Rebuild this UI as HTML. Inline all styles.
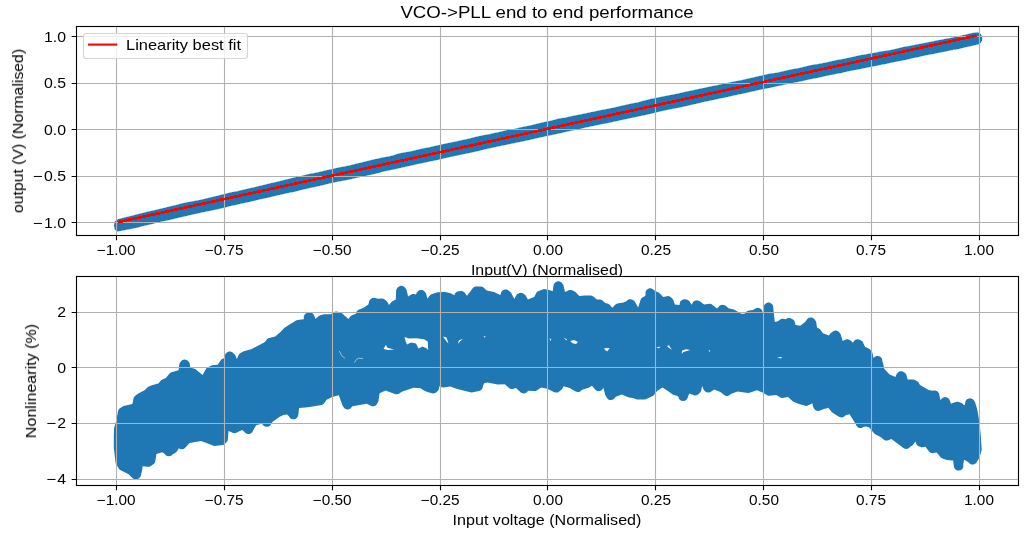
<!DOCTYPE html>
<html><head><meta charset="utf-8"><title>VCO-&gt;PLL end to end performance</title>
<style>
html,body{margin:0;padding:0;background:#fff;overflow:hidden;}
body{width:1036px;height:540px;position:relative;overflow:hidden;font-family:"Liberation Sans",sans-serif;color:#000;}
.t{position:absolute;white-space:nowrap;line-height:1;will-change:transform;font-family:"Liberation Sans",sans-serif;}
.m{display:inline-block;width:10.34px;text-align:center;position:relative;left:0.8px;}
.my{left:0.4px;transform:scaleX(1.06);transform-origin:100% 50%;}
#root{position:absolute;left:0;top:0;width:1036px;height:540px;overflow:hidden;background:#fff;}
</style></head><body>
<div id="root">
<svg width="1036" height="540" viewBox="0 0 1036 540" style="position:absolute;left:0;top:0">
<defs><clipPath id="c1"><rect x="76.5" y="26.5" width="942.0" height="209.0"/></clipPath><clipPath id="c2"><rect x="76.5" y="276.5" width="942.0" height="209.0"/></clipPath></defs>
<!--TOPAXES-->
<rect x="76.5" y="26.5" width="942.0" height="209.0" fill="#fff"/>
<g clip-path="url(#c1)">
<path d="M117.5 219.8 L121.5 218.6 L125.5 217.6 L129.5 216.7 L133.5 215.7 L137.5 214.6 L141.5 213.7 L145.5 212.7 L149.5 211.7 L153.5 210.8 L157.5 209.9 L161.5 208.9 L165.5 208.0 L169.5 206.9 L173.5 206.0 L177.5 205.1 L181.5 203.9 L185.5 203.0 L189.5 202.3 L193.5 201.5 L197.5 200.8 L201.5 200.0 L205.5 199.0 L209.5 198.0 L213.5 197.1 L217.5 196.2 L221.5 195.1 L225.5 194.2 L229.5 193.1 L233.5 192.3 L237.5 191.6 L241.5 190.5 L245.5 189.6 L249.5 188.7 L253.5 187.8 L257.5 186.8 L261.5 185.9 L265.5 184.9 L269.5 183.9 L273.5 183.0 L277.5 182.1 L281.5 181.1 L285.5 180.1 L289.5 179.1 L293.5 178.1 L297.5 177.2 L301.5 176.3 L305.5 175.3 L309.5 174.3 L313.5 173.6 L317.5 172.8 L321.5 171.8 L325.5 170.9 L329.5 170.0 L333.5 169.1 L337.5 168.2 L341.5 167.4 L345.5 166.7 L349.5 165.8 L353.5 164.8 L357.5 163.8 L361.5 162.9 L365.5 161.9 L369.5 160.9 L373.5 159.9 L377.5 159.1 L381.5 158.2 L385.5 157.4 L389.5 156.7 L393.5 155.7 L397.5 154.3 L401.5 153.4 L405.5 152.6 L409.5 152.0 L413.5 151.1 L417.5 150.1 L421.5 149.2 L425.5 148.4 L429.5 147.7 L433.5 146.7 L437.5 145.8 L441.5 144.9 L445.5 144.0 L449.5 143.2 L453.5 142.4 L457.5 141.5 L461.5 140.6 L465.5 139.8 L469.5 138.9 L473.5 137.8 L477.5 136.9 L481.5 136.0 L485.5 135.3 L489.5 134.5 L493.5 133.6 L497.5 132.8 L501.5 131.9 L505.5 130.9 L509.5 130.1 L513.5 129.5 L517.5 128.5 L521.5 127.5 L525.5 126.8 L529.5 126.0 L533.5 125.1 L537.5 124.0 L541.5 123.1 L545.5 122.2 L549.5 121.4 L553.5 120.5 L557.5 119.3 L561.5 118.5 L565.5 118.0 L569.5 117.0 L573.5 116.2 L577.5 115.4 L581.5 114.6 L585.5 113.8 L589.5 112.9 L593.5 112.1 L597.5 111.3 L601.5 110.4 L605.5 109.7 L609.5 108.9 L613.5 108.1 L617.5 107.1 L621.5 106.2 L625.5 105.3 L629.5 104.4 L633.5 103.5 L637.5 102.9 L641.5 101.7 L645.5 100.7 L649.5 99.6 L653.5 98.8 L657.5 98.0 L661.5 97.2 L665.5 96.4 L669.5 95.5 L673.5 94.9 L677.5 94.1 L681.5 93.1 L685.5 92.2 L689.5 91.4 L693.5 90.5 L697.5 89.6 L701.5 88.8 L705.5 88.0 L709.5 87.1 L713.5 86.3 L717.5 85.5 L721.5 84.6 L725.5 83.7 L729.5 82.9 L733.5 82.1 L737.5 81.3 L741.5 80.5 L745.5 79.6 L749.5 78.7 L753.5 77.8 L757.5 76.8 L761.5 76.0 L765.5 75.0 L769.5 74.1 L773.5 73.6 L777.5 73.0 L781.5 72.0 L785.5 71.2 L789.5 70.2 L793.5 69.4 L797.5 68.8 L801.5 67.9 L805.5 66.9 L809.5 65.9 L813.5 65.1 L817.5 64.5 L821.5 63.8 L825.5 63.0 L829.5 62.2 L833.5 61.2 L837.5 60.3 L841.5 59.7 L845.5 58.9 L849.5 58.0 L853.5 57.2 L857.5 56.2 L861.5 55.4 L865.5 54.8 L869.5 54.0 L873.5 53.4 L877.5 52.5 L881.5 51.8 L885.5 51.3 L889.5 50.6 L893.5 49.8 L897.5 48.8 L901.5 47.8 L905.5 47.0 L909.5 46.4 L913.5 45.5 L917.5 44.7 L921.5 44.0 L925.5 43.2 L929.5 42.4 L933.5 41.6 L937.5 40.7 L941.5 40.1 L945.5 39.2 L949.5 38.5 L953.5 37.7 L957.5 36.8 L961.5 35.9 L965.5 35.1 L969.5 34.0 L973.5 33.2 L977.5 32.8 A4.4 5.7 0 0 1 977.5 44.2 L977.5 44.2 L973.5 45.1 L969.5 46.0 L965.5 46.8 L961.5 47.9 L957.5 48.8 L953.5 49.4 L949.5 50.2 L945.5 51.1 L941.5 51.9 L937.5 52.6 L933.5 53.5 L929.5 54.3 L925.5 55.0 L921.5 55.9 L917.5 56.8 L913.5 57.6 L909.5 58.5 L905.5 59.5 L901.5 60.3 L897.5 61.0 L893.5 61.8 L889.5 62.7 L885.5 63.6 L881.5 64.3 L877.5 65.2 L873.5 65.9 L869.5 66.7 L865.5 67.5 L861.5 68.4 L857.5 69.2 L853.5 69.9 L849.5 70.6 L845.5 71.5 L841.5 72.5 L837.5 73.3 L833.5 74.1 L829.5 74.8 L825.5 75.7 L821.5 76.6 L817.5 77.5 L813.5 78.2 L809.5 79.0 L805.5 79.9 L801.5 80.8 L797.5 81.6 L793.5 82.4 L789.5 83.2 L785.5 84.0 L781.5 84.9 L777.5 85.7 L773.5 86.6 L769.5 87.5 L765.5 88.3 L761.5 89.1 L757.5 89.9 L753.5 90.8 L749.5 91.7 L745.5 92.6 L741.5 93.5 L737.5 94.3 L733.5 95.2 L729.5 96.1 L725.5 97.0 L721.5 97.8 L717.5 98.6 L713.5 99.5 L709.5 100.4 L705.5 101.2 L701.5 102.0 L697.5 103.1 L693.5 104.0 L689.5 104.8 L685.5 105.8 L681.5 106.7 L677.5 107.5 L673.5 108.3 L669.5 109.1 L665.5 109.9 L661.5 110.7 L657.5 111.7 L653.5 112.7 L649.5 113.6 L645.5 114.5 L641.5 115.4 L637.5 116.3 L633.5 117.1 L629.5 117.9 L625.5 118.8 L621.5 119.6 L617.5 120.5 L613.5 121.4 L609.5 122.3 L605.5 123.1 L601.5 123.8 L597.5 124.7 L593.5 125.5 L589.5 126.3 L585.5 127.2 L581.5 128.2 L577.5 129.1 L573.5 129.9 L569.5 130.7 L565.5 131.5 L561.5 132.5 L557.5 133.4 L553.5 134.3 L549.5 135.1 L545.5 135.9 L541.5 136.8 L537.5 137.7 L533.5 138.6 L529.5 139.5 L525.5 140.4 L521.5 141.3 L517.5 142.0 L513.5 142.9 L509.5 143.7 L505.5 144.5 L501.5 145.4 L497.5 146.2 L493.5 147.1 L489.5 147.9 L485.5 148.8 L481.5 149.8 L477.5 150.8 L473.5 151.7 L469.5 152.5 L465.5 153.4 L461.5 154.2 L457.5 155.1 L453.5 155.9 L449.5 156.7 L445.5 157.6 L441.5 158.5 L437.5 159.5 L433.5 160.4 L429.5 161.2 L425.5 162.1 L421.5 162.9 L417.5 163.7 L413.5 164.6 L409.5 165.5 L405.5 166.4 L401.5 167.3 L397.5 168.2 L393.5 169.1 L389.5 169.9 L385.5 170.7 L381.5 171.7 L377.5 172.8 L373.5 173.8 L369.5 174.6 L365.5 175.5 L361.5 176.4 L357.5 177.3 L353.5 178.1 L349.5 179.1 L345.5 179.9 L341.5 180.6 L337.5 181.3 L333.5 182.2 L329.5 183.1 L325.5 184.1 L321.5 185.1 L317.5 186.0 L313.5 186.8 L309.5 187.7 L305.5 188.6 L301.5 189.5 L297.5 190.6 L293.5 191.6 L289.5 192.3 L285.5 193.2 L281.5 194.1 L277.5 195.0 L273.5 195.9 L269.5 196.9 L265.5 197.8 L261.5 198.6 L257.5 199.5 L253.5 200.5 L249.5 201.5 L245.5 202.4 L241.5 203.2 L237.5 204.1 L233.5 205.0 L229.5 205.8 L225.5 207.0 L221.5 207.9 L217.5 208.8 L213.5 209.7 L209.5 210.5 L205.5 211.3 L201.5 212.2 L197.5 213.1 L193.5 213.9 L189.5 214.8 L185.5 215.8 L181.5 216.7 L177.5 217.6 L173.5 218.6 L169.5 219.6 L165.5 220.4 L161.5 221.2 L157.5 222.1 L153.5 223.3 L149.5 224.2 L145.5 225.1 L141.5 226.1 L137.5 227.2 L133.5 228.0 L129.5 228.8 L125.5 229.6 L121.5 230.4 L117.5 231.1 A3.5 5.7 0 0 1 117.5 219.8 Z" fill="#1f77b4" stroke="#1f77b4" stroke-width="0.8" stroke-linejoin="round" shape-rendering="crispEdges"/>
<path d="M116.50 26.5V235.5M224.50 26.5V235.5M332.50 26.5V235.5M440.50 26.5V235.5M547.50 26.5V235.5M655.50 26.5V235.5M763.50 26.5V235.5M871.50 26.5V235.5M979.50 26.5V235.5M76.5 36.50H1018.5M76.5 83.50H1018.5M76.5 129.50H1018.5M76.5 176.50H1018.5M76.5 222.50H1018.5" stroke="#b0b0b0" stroke-width="1.11" fill="none"/>
<path d="M118.80 221.98L975.30 35.92" stroke="#ff0000" stroke-width="2.7" fill="none" stroke-linecap="square" shape-rendering="crispEdges"/>
</g>
<path d="M116.50 235.5v4.86M224.50 235.5v4.86M332.50 235.5v4.86M440.50 235.5v4.86M547.50 235.5v4.86M655.50 235.5v4.86M763.50 235.5v4.86M871.50 235.5v4.86M979.50 235.5v4.86M76.5 36.50h-4.86M76.5 83.50h-4.86M76.5 129.50h-4.86M76.5 176.50h-4.86M76.5 222.50h-4.86" stroke="#000" stroke-width="1.11" fill="none"/>
<rect x="76.5" y="26.5" width="942.0" height="209.0" fill="none" stroke="#000" stroke-width="1.11"/>
<rect x="83.5" y="33.5" width="164" height="25" rx="2.8" ry="2.8" fill="#fff" fill-opacity="0.8" stroke="#ccc" stroke-opacity="0.8" stroke-width="1.11"/>
<path d="M89 44.6H116.2" stroke="#ff0000" stroke-width="2.08" stroke-linecap="square" fill="none"/>

<!--BOTAXES-->
<rect x="76.5" y="276.5" width="942.0" height="209.0" fill="#fff"/>
<g clip-path="url(#c2)">
<path d="M227.2 352.2 L225.8 353.5 L225.1 354.6 L224.8 356.4 L225.0 357.7 L222.1 358.9 L221.3 359.5 L217.7 364.7 L212.0 365.3 L207.3 367.6 L206.5 368.2 L205.9 369.1 L202.6 374.9 L195.2 369.1 L190.3 367.4 L189.7 363.4 L189.3 362.5 L187.5 360.6 L186.4 360.0 L184.6 359.6 L183.4 359.8 L182.2 360.2 L180.8 361.5 L179.6 363.3 L179.3 364.4 L178.6 370.3 L170.7 372.6 L169.6 373.6 L165.8 378.1 L161.3 380.1 L158.4 383.6 L152.6 384.9 L148.2 386.7 L144.5 390.2 L138.8 393.2 L135.2 395.7 L134.1 396.9 L133.7 397.8 L132.4 404.0 L123.6 406.0 L119.9 408.2 L119.1 409.0 L118.5 409.9 L118.1 410.9 L116.0 421.8 L114.1 427.9 L113.8 436.1 L113.8 447.8 L115.6 462.7 L116.0 463.7 L118.8 468.6 L119.8 469.7 L128.7 474.3 L132.1 477.8 L133.4 478.8 L135.2 479.4 L137.4 479.2 L139.5 477.9 L140.2 477.1 L140.7 476.2 L142.1 470.3 L142.6 466.2 L147.9 466.8 L149.5 466.7 L150.9 466.1 L154.4 463.4 L155.0 462.4 L155.3 461.3 L156.4 453.9 L162.3 452.3 L164.8 454.0 L165.5 454.9 L166.5 455.7 L168.3 456.3 L170.1 456.1 L171.3 455.7 L172.5 454.6 L176.2 452.3 L177.2 451.1 L178.8 448.3 L179.9 449.0 L181.7 449.3 L183.6 449.0 L184.7 448.3 L189.6 442.9 L201.1 441.1 L214.3 446.1 L222.8 445.1 L223.9 444.7 L224.8 443.9 L227.1 441.4 L227.6 440.5 L227.8 439.4 L228.5 431.1 L233.3 433.1 L234.9 433.2 L236.3 432.8 L242.0 430.0 L244.4 431.7 L245.1 432.7 L246.1 433.5 L247.9 434.1 L249.7 433.9 L251.4 433.1 L252.3 432.2 L252.9 431.1 L253.3 429.9 L256.2 425.2 L262.2 423.6 L262.6 424.4 L263.3 425.4 L264.9 426.4 L266.7 426.8 L268.6 426.4 L270.1 425.4 L270.9 424.4 L271.3 423.3 L273.0 421.4 L279.3 416.9 L283.3 415.1 L287.2 414.6 L288.9 416.2 L290.0 417.9 L291.0 418.7 L292.8 419.3 L294.0 419.3 L295.2 419.0 L296.8 417.9 L297.8 416.4 L298.5 414.0 L299.0 408.1 L308.0 407.2 L321.7 405.0 L322.7 404.6 L324.2 403.3 L326.6 399.7 L332.1 397.0 L338.9 395.2 L342.2 404.8 L343.4 407.0 L344.7 408.4 L345.8 409.0 L347.0 409.4 L348.2 409.4 L349.4 409.0 L350.5 408.4 L352.4 406.2 L366.8 403.8 L371.7 406.2 L373.6 406.3 L375.3 405.7 L376.7 404.5 L378.4 401.4 L379.6 393.2 L385.6 390.5 L394.9 394.0 L395.9 394.2 L397.0 394.2 L398.2 393.9 L399.4 393.5 L400.6 392.4 L402.4 391.4 L413.5 387.7 L420.5 388.3 L425.2 391.3 L431.8 393.3 L433.4 393.4 L435.8 392.7 L438.2 390.5 L438.9 389.1 L439.5 386.1 L440.8 386.9 L443.4 387.4 L450.3 386.4 L457.1 388.9 L470.4 392.3 L471.6 392.4 L478.9 391.1 L480.4 390.5 L481.4 389.7 L482.2 388.7 L482.7 387.6 L482.8 386.5 L484.1 383.2 L487.4 382.4 L497.6 384.6 L504.8 384.2 L509.6 388.5 L511.5 389.1 L512.7 389.1 L516.0 388.0 L520.8 392.4 L521.9 393.1 L523.7 393.4 L524.9 393.3 L526.1 392.8 L527.1 392.0 L528.2 390.7 L534.3 391.1 L535.9 390.9 L541.2 387.5 L547.4 388.8 L554.3 392.3 L556.2 392.6 L557.5 392.4 L558.6 392.0 L560.1 390.7 L561.3 389.9 L562.1 389.0 L563.6 386.2 L569.6 387.9 L575.6 391.5 L577.8 392.0 L579.0 391.9 L580.2 391.4 L581.5 390.2 L583.0 389.4 L588.5 387.8 L591.9 385.8 L594.2 388.2 L595.2 389.8 L596.8 390.8 L598.0 391.2 L599.9 391.0 L601.5 390.2 L602.8 388.8 L603.3 387.4 L605.2 394.8 L606.6 397.6 L607.4 398.6 L608.4 399.4 L609.5 399.9 L610.8 400.0 L612.6 399.7 L613.7 399.0 L614.6 398.2 L615.3 396.9 L621.7 394.4 L629.0 397.4 L632.9 397.9 L637.1 399.5 L644.0 399.6 L645.2 399.4 L653.3 395.7 L657.2 391.1 L662.4 387.6 L666.8 390.3 L673.1 394.7 L677.5 395.9 L678.5 397.1 L679.0 398.7 L679.8 399.7 L681.3 400.7 L683.2 401.1 L685.0 400.7 L686.1 400.1 L687.0 399.2 L687.8 397.5 L688.0 396.3 L689.5 393.6 L694.5 395.4 L696.4 395.3 L698.1 394.4 L700.1 392.5 L700.8 391.6 L701.2 390.5 L702.1 386.1 L703.7 389.8 L704.9 391.2 L706.4 392.3 L708.3 392.6 L710.1 392.3 L714.3 389.5 L720.4 392.1 L724.5 395.3 L726.2 395.9 L727.5 395.9 L728.7 395.6 L729.8 394.9 L730.4 394.3 L732.0 393.5 L737.5 391.6 L748.2 393.0 L749.5 392.8 L756.9 390.3 L763.1 392.7 L766.6 395.0 L768.2 395.7 L769.4 395.7 L776.2 394.9 L780.8 397.7 L782.4 398.1 L788.1 396.9 L793.0 401.4 L798.9 404.0 L805.4 405.7 L806.4 405.9 L807.9 405.6 L812.4 403.3 L813.1 406.7 L814.0 408.6 L815.2 410.0 L816.9 410.8 L818.2 411.0 L819.4 410.8 L823.1 409.2 L828.3 407.8 L831.9 412.2 L838.5 416.6 L840.3 417.3 L841.5 417.5 L842.8 417.3 L843.9 416.8 L845.4 415.5 L846.2 415.1 L849.6 414.3 L855.8 424.2 L856.3 425.6 L857.1 426.6 L858.1 427.4 L859.2 427.9 L860.5 428.0 L861.7 427.9 L863.3 427.1 L865.6 426.6 L869.0 427.2 L874.3 433.6 L875.2 434.3 L881.0 437.3 L884.2 440.0 L885.3 440.5 L887.2 440.6 L888.4 440.3 L891.4 438.9 L903.4 448.0 L905.0 448.8 L906.3 449.0 L907.5 448.8 L909.2 448.0 L910.4 446.6 L912.4 445.4 L915.4 441.6 L916.6 444.4 L917.7 445.7 L918.7 446.3 L921.7 447.3 L922.7 447.3 L925.5 446.7 L928.8 451.3 L930.2 452.5 L931.4 453.0 L932.6 453.2 L934.6 452.7 L936.7 452.5 L940.4 457.1 L941.8 458.2 L946.9 459.9 L953.1 460.5 L953.9 466.5 L954.2 467.7 L955.3 469.2 L956.3 470.0 L957.4 470.5 L958.7 470.6 L960.5 470.3 L962.0 469.2 L962.8 468.2 L963.4 466.5 L963.2 464.5 L964.1 459.8 L967.3 461.4 L968.4 462.2 L969.7 463.6 L971.3 464.5 L972.6 464.6 L973.8 464.5 L975.5 463.6 L976.4 462.7 L977.2 461.1 L978.1 460.1 L979.7 456.8 L981.7 450.1 L980.9 436.9 L979.4 422.1 L977.2 409.3 L975.0 402.0 L973.8 400.2 L972.9 399.3 L971.8 398.7 L970.0 398.3 L968.1 398.7 L967.0 399.3 L966.1 400.2 L965.5 401.3 L965.2 402.5 L965.2 403.4 L964.4 405.4 L962.1 403.2 L958.0 401.8 L956.9 401.7 L955.9 401.9 L952.7 403.0 L951.0 403.7 L949.4 399.4 L948.6 398.4 L947.0 397.4 L945.2 397.0 L943.4 397.4 L941.8 398.4 L941.0 399.5 L940.2 399.8 L939.1 393.6 L937.8 391.8 L936.8 391.0 L935.0 390.4 L933.7 390.4 L932.2 390.8 L928.7 390.1 L920.0 385.0 L918.3 382.1 L915.0 379.9 L913.2 379.5 L907.6 379.5 L906.3 374.4 L905.4 373.2 L903.2 371.7 L901.8 371.3 L900.5 371.3 L899.3 371.6 L898.2 372.3 L896.8 373.8 L895.4 377.1 L889.6 374.6 L884.2 368.7 L883.3 364.1 L882.3 361.0 L882.2 359.4 L881.4 357.8 L880.5 356.9 L879.4 356.3 L877.6 355.9 L876.3 356.0 L875.2 356.5 L873.5 358.0 L872.5 352.9 L870.8 350.2 L869.6 349.0 L865.0 346.8 L863.0 342.4 L862.4 341.6 L860.7 340.2 L859.0 339.4 L857.7 339.2 L856.5 339.4 L855.3 339.8 L854.4 340.6 L852.8 342.7 L851.8 341.5 L850.1 340.3 L849.0 339.7 L847.8 339.3 L846.7 339.3 L845.7 339.5 L842.7 341.0 L840.7 334.4 L840.2 333.4 L838.5 331.6 L837.4 331.0 L836.2 330.6 L834.4 330.8 L833.2 331.2 L830.8 333.1 L828.9 335.5 L822.9 333.3 L820.1 329.3 L817.0 327.5 L816.1 321.4 L814.3 318.9 L812.7 317.8 L810.9 317.5 L809.6 317.6 L808.5 318.1 L807.1 319.3 L805.1 322.0 L800.3 325.8 L795.6 325.0 L794.6 321.5 L794.1 320.6 L793.0 319.5 L791.1 318.4 L790.1 318.1 L789.1 318.0 L787.8 318.1 L785.6 319.3 L783.2 318.7 L781.6 318.8 L780.7 319.2 L777.9 321.2 L774.8 322.0 L773.1 306.2 L772.7 305.0 L771.9 304.0 L770.3 303.0 L769.1 302.6 L767.9 302.6 L766.7 303.0 L765.1 304.0 L764.3 305.0 L763.6 307.3 L762.8 313.0 L762.2 310.8 L761.2 309.2 L759.6 308.2 L757.8 307.8 L756.0 308.2 L752.9 310.1 L749.0 310.5 L747.5 310.9 L746.6 311.5 L744.6 313.8 L741.3 313.8 L733.9 309.6 L728.4 308.2 L725.8 305.8 L723.9 304.9 L722.1 304.7 L720.3 305.3 L719.3 306.1 L718.4 307.3 L717.0 308.6 L714.5 306.4 L711.2 304.1 L709.6 303.8 L704.2 304.5 L699.2 301.0 L697.5 300.4 L695.6 300.5 L693.9 301.3 L693.0 302.2 L691.7 304.7 L689.2 301.1 L688.3 300.2 L686.6 299.4 L683.8 299.3 L682.1 299.9 L680.6 301.1 L680.0 302.2 L679.7 304.3 L679.3 305.1 L674.8 304.5 L673.2 299.7 L672.5 298.7 L670.9 297.2 L669.2 296.3 L668.1 296.1 L663.2 297.0 L659.2 292.8 L658.1 292.2 L655.2 291.1 L652.6 288.9 L650.8 288.3 L649.5 288.3 L648.3 288.7 L646.8 289.7 L646.0 290.7 L645.4 292.5 L645.6 294.4 L645.2 296.0 L642.2 297.6 L641.0 298.8 L640.6 299.8 L638.2 307.5 L634.4 301.1 L632.1 299.6 L630.2 299.2 L628.4 299.6 L627.3 300.2 L626.4 301.2 L623.4 302.5 L617.3 303.6 L616.2 303.9 L614.9 305.0 L612.4 307.8 L609.1 304.2 L608.1 303.7 L605.2 303.1 L601.9 300.0 L600.3 299.4 L596.9 299.4 L593.3 296.5 L591.8 295.8 L590.7 295.6 L584.8 295.6 L579.3 296.0 L575.5 291.9 L572.7 290.4 L571.0 289.9 L569.4 290.1 L565.0 292.1 L563.3 284.8 L562.1 283.2 L561.2 282.3 L560.1 281.7 L558.9 281.3 L557.7 281.3 L556.5 281.7 L554.9 282.7 L554.1 283.7 L553.4 286.0 L552.7 291.2 L549.2 290.1 L545.0 289.2 L543.9 289.1 L542.7 289.4 L538.6 290.9 L537.2 291.7 L536.3 293.0 L534.2 297.0 L527.9 299.6 L525.7 295.4 L523.2 293.4 L522.0 292.9 L520.8 292.8 L519.5 292.9 L518.4 293.4 L517.0 294.3 L516.0 295.7 L514.3 299.1 L511.1 292.8 L509.1 290.9 L507.4 289.8 L506.2 289.5 L505.0 289.5 L503.8 289.8 L502.7 290.4 L501.4 291.8 L500.8 293.8 L500.2 294.9 L494.0 292.0 L486.7 290.5 L482.9 287.1 L482.0 286.7 L480.5 286.4 L475.7 286.4 L474.6 286.7 L473.7 287.3 L472.5 288.4 L470.3 291.6 L467.0 295.7 L465.8 294.6 L465.4 293.5 L464.6 292.5 L463.1 291.4 L461.8 291.1 L458.5 291.2 L456.8 291.8 L455.4 293.1 L454.7 294.1 L454.4 295.2 L450.6 293.3 L445.4 292.0 L444.2 291.9 L437.9 292.3 L436.8 292.5 L430.9 294.6 L429.8 295.6 L427.4 298.8 L426.2 293.9 L425.8 292.9 L424.1 291.0 L423.0 290.3 L421.8 290.0 L419.9 290.1 L418.2 291.0 L416.6 292.9 L416.1 294.4 L413.4 294.0 L412.4 294.1 L410.9 294.7 L408.1 296.6 L406.7 290.4 L406.1 289.0 L404.7 287.2 L403.7 286.4 L401.9 285.8 L400.7 285.8 L399.5 286.2 L397.9 287.2 L397.1 288.2 L396.3 289.8 L396.1 290.9 L395.8 299.6 L392.0 301.6 L389.0 304.9 L387.1 301.6 L384.3 299.3 L383.4 298.7 L381.7 298.4 L378.1 298.8 L374.0 297.8 L372.4 298.1 L370.5 299.3 L369.7 300.1 L369.1 301.2 L368.4 304.6 L363.1 308.1 L358.6 309.7 L357.5 310.6 L356.8 311.6 L356.3 312.8 L356.1 313.8 L351.3 315.6 L350.5 316.2 L348.4 319.0 L341.6 313.0 L340.4 312.5 L336.7 311.5 L335.6 311.5 L334.5 311.9 L330.8 314.2 L324.3 314.2 L320.4 315.3 L318.9 316.1 L315.4 318.9 L314.1 315.3 L313.0 313.7 L312.1 312.9 L310.9 312.5 L309.7 312.3 L308.4 312.5 L306.1 313.3 L304.7 314.5 L303.8 316.2 L303.7 317.5 L303.9 318.8 L303.7 319.2 L297.5 320.0 L296.1 320.4 L284.5 327.8 L280.5 331.9 L275.2 336.4 L269.2 337.9 L268.1 338.3 L267.2 339.0 L264.9 342.0 L258.5 345.6 L251.1 349.3 L243.7 351.3 L240.1 353.3 L239.3 354.0 L238.6 354.9 L236.9 359.0 L235.3 355.2 L232.9 352.7 L231.9 352.1 L230.2 351.6 L228.9 351.6 Z" fill="#1f77b4" fill-rule="evenodd"/>
<path d="M404.5 337 L409 338.6 L416 338.2 L424 339.2 L427.8 341.5 L428.2 350 L426.5 348.2 L422.5 346.5 L418.5 348.5 L416 343.5 L411 342.6 L407 344.5 L405.5 341 Z" fill="#fff"/>
<path d="M383.5 349 L385.8 345 L387.5 347.8 L391 348.8 L394.5 349.4 L388 350 Z" fill="#fff"/>
<path d="M443 336.4 L446.5 337.6 L448.5 343.6 L446.5 341.4 Z" fill="#fff"/>
<path d="M457.8 343.8 L459 340.2 L463 338.8 L460.5 341 Z" fill="#fff"/>
<path d="M570.2 341 L574 340 L578 342 L576 344 L572.5 343.2 Z" fill="#fff"/>
<path d="M604 348.2 L609.6 348 L607.5 351.2 L605.5 350.4 Z" fill="#fff"/>
<path d="M656 347.8 L660.6 346.4 L659 348.2 Z" fill="#fff"/>
<path d="M667 346 L669 345.2 L671.8 349.8 L669 348 Z" fill="#fff"/>
<path d="M681.6 354 L682.2 350.4 L686 349.2 L690.2 350 L686 351.2 L683.4 352 Z" fill="#fff"/>
<path d="M563.4 337.6 L567 339.6 L566.6 340.4 Z" fill="#fff"/>
<path d="M777 357.2 L782 357 L781 358.6 Z" fill="#fff"/>
<path d="M549.8 338.2 L551.4 339.4 L550 341 Z" fill="#fff"/>
<path d="M483.6 336.4 L485.6 336 L484.6 337.8 Z" fill="#fff"/>
<path d="M708.6 350 L709.8 350.2 L709.6 352.4 Z" fill="#fff"/>
<path d="M339.3 351 Q341.5 357 345 358.4" fill="none" stroke="#fff" stroke-opacity="0.75" stroke-width="0.7"/>
<path d="M354.5 362.5 Q356 359 358.5 358.2 L363 358.6" fill="none" stroke="#fff" stroke-opacity="0.75" stroke-width="0.7"/>
<path d="M116.50 276.5V485.5M224.50 276.5V485.5M332.50 276.5V485.5M440.50 276.5V485.5M547.50 276.5V485.5M655.50 276.5V485.5M763.50 276.5V485.5M871.50 276.5V485.5M979.50 276.5V485.5M76.5 312.50H1018.5M76.5 367.50H1018.5M76.5 423.50H1018.5M76.5 479.50H1018.5" stroke="#b0b0b0" stroke-width="1.11" fill="none"/>
</g>
<path d="M116.50 485.5v4.86M224.50 485.5v4.86M332.50 485.5v4.86M440.50 485.5v4.86M547.50 485.5v4.86M655.50 485.5v4.86M763.50 485.5v4.86M871.50 485.5v4.86M979.50 485.5v4.86M76.5 312.50h-4.86M76.5 367.50h-4.86M76.5 423.50h-4.86M76.5 479.50h-4.86" stroke="#000" stroke-width="1.11" fill="none"/>
<rect x="76.5" y="276.5" width="942.0" height="209.0" fill="none" stroke="#000" stroke-width="1.11"/>
</svg>

<div class="t" style="left:247.00px;width:600px;text-align:center;top:5.00px;font-size:16.9px;transform:scaleX(1.104);transform-origin:50% 50%">VCO-&gt;PLL end to end performance</div>
<div class="t" style="left:-184.82px;width:600px;text-align:center;top:243.00px;font-size:14.1px;transform:scaleX(1.09);transform-origin:50% 50%"><span class="m">−</span>1.00</div>
<div class="t" style="left:-184.82px;width:600px;text-align:center;top:493.00px;font-size:14.1px;transform:scaleX(1.09);transform-origin:50% 50%"><span class="m">−</span>1.00</div>
<div class="t" style="left:-77.05px;width:600px;text-align:center;top:243.00px;font-size:14.1px;transform:scaleX(1.09);transform-origin:50% 50%"><span class="m">−</span>0.75</div>
<div class="t" style="left:-77.05px;width:600px;text-align:center;top:493.00px;font-size:14.1px;transform:scaleX(1.09);transform-origin:50% 50%"><span class="m">−</span>0.75</div>
<div class="t" style="left:30.73px;width:600px;text-align:center;top:243.00px;font-size:14.1px;transform:scaleX(1.09);transform-origin:50% 50%"><span class="m">−</span>0.50</div>
<div class="t" style="left:30.73px;width:600px;text-align:center;top:493.00px;font-size:14.1px;transform:scaleX(1.09);transform-origin:50% 50%"><span class="m">−</span>0.50</div>
<div class="t" style="left:138.51px;width:600px;text-align:center;top:243.00px;font-size:14.1px;transform:scaleX(1.09);transform-origin:50% 50%"><span class="m">−</span>0.25</div>
<div class="t" style="left:138.51px;width:600px;text-align:center;top:493.00px;font-size:14.1px;transform:scaleX(1.09);transform-origin:50% 50%"><span class="m">−</span>0.25</div>
<div class="t" style="left:247.98px;width:600px;text-align:center;top:243.00px;font-size:14.1px;transform:scaleX(1.09);transform-origin:50% 50%">0.00</div>
<div class="t" style="left:247.98px;width:600px;text-align:center;top:493.00px;font-size:14.1px;transform:scaleX(1.09);transform-origin:50% 50%">0.00</div>
<div class="t" style="left:355.75px;width:600px;text-align:center;top:243.00px;font-size:14.1px;transform:scaleX(1.09);transform-origin:50% 50%">0.25</div>
<div class="t" style="left:355.75px;width:600px;text-align:center;top:493.00px;font-size:14.1px;transform:scaleX(1.09);transform-origin:50% 50%">0.25</div>
<div class="t" style="left:463.53px;width:600px;text-align:center;top:243.00px;font-size:14.1px;transform:scaleX(1.09);transform-origin:50% 50%">0.50</div>
<div class="t" style="left:463.53px;width:600px;text-align:center;top:493.00px;font-size:14.1px;transform:scaleX(1.09);transform-origin:50% 50%">0.50</div>
<div class="t" style="left:571.31px;width:600px;text-align:center;top:243.00px;font-size:14.1px;transform:scaleX(1.09);transform-origin:50% 50%">0.75</div>
<div class="t" style="left:571.31px;width:600px;text-align:center;top:493.00px;font-size:14.1px;transform:scaleX(1.09);transform-origin:50% 50%">0.75</div>
<div class="t" style="left:679.08px;width:600px;text-align:center;top:243.00px;font-size:14.1px;transform:scaleX(1.09);transform-origin:50% 50%">1.00</div>
<div class="t" style="left:679.08px;width:600px;text-align:center;top:493.00px;font-size:14.1px;transform:scaleX(1.09);transform-origin:50% 50%">1.00</div>
<div class="t" style="left:-134.40px;width:200px;text-align:right;top:30.00px;font-size:14.1px;transform:scaleX(1.126);transform-origin:100% 50%">1.0</div>
<div class="t" style="left:-134.40px;width:200px;text-align:right;top:76.00px;font-size:14.1px;transform:scaleX(1.126);transform-origin:100% 50%">0.5</div>
<div class="t" style="left:-134.40px;width:200px;text-align:right;top:123.00px;font-size:14.1px;transform:scaleX(1.126);transform-origin:100% 50%">0.0</div>
<div class="t" style="left:-134.40px;width:200px;text-align:right;top:169.00px;font-size:14.1px;transform:scaleX(1.126);transform-origin:100% 50%"><span class="m my">−</span>0.5</div>
<div class="t" style="left:-134.40px;width:200px;text-align:right;top:216.00px;font-size:14.1px;transform:scaleX(1.126);transform-origin:100% 50%"><span class="m my">−</span>1.0</div>
<div class="t" style="left:-134.00px;width:200px;text-align:right;top:305.00px;font-size:14.1px;transform:scaleX(1.126);transform-origin:100% 50%">2</div>
<div class="t" style="left:-134.00px;width:200px;text-align:right;top:361.00px;font-size:14.1px;transform:scaleX(1.126);transform-origin:100% 50%">0</div>
<div class="t" style="left:-134.00px;width:200px;text-align:right;top:416.00px;font-size:14.1px;transform:scaleX(1.126);transform-origin:100% 50%"><span class="m my">−</span>2</div>
<div class="t" style="left:-134.00px;width:200px;text-align:right;top:472.00px;font-size:14.1px;transform:scaleX(1.126);transform-origin:100% 50%"><span class="m my">−</span>4</div>
<div class="t" style="left:125.90px;top:38.00px;font-size:14.1px;transform:scaleX(1.165);transform-origin:0 50%">Linearity best fit</div>
<div class="t" style="left:247.00px;width:600px;text-align:center;top:513.00px;font-size:14.1px;transform:scaleX(1.143);transform-origin:50% 50%">Input voltage (Normalised)</div>
<div class="t" style="left:-281.75px;width:600px;text-align:center;top:124.15px;font-size:14.1px;transform:rotate(-90deg) scaleX(1.121);transform-origin:50% 50%">output (V) (Normalised)</div>
<div class="t" style="left:-268.65px;width:600px;text-align:center;top:374.05px;font-size:14.1px;transform:rotate(-90deg) scaleX(1.141);transform-origin:50% 50%">Nonlinearity (%)</div>
<div style="position:absolute;left:0;top:0;width:1036px;height:276.6px;overflow:hidden"><div class="t" style="left:247.00px;width:600px;text-align:center;top:263.00px;font-size:14.1px;transform:scaleX(1.13);transform-origin:50% 50%">Input(V) (Normalised)</div></div>
</div>
</body></html>
